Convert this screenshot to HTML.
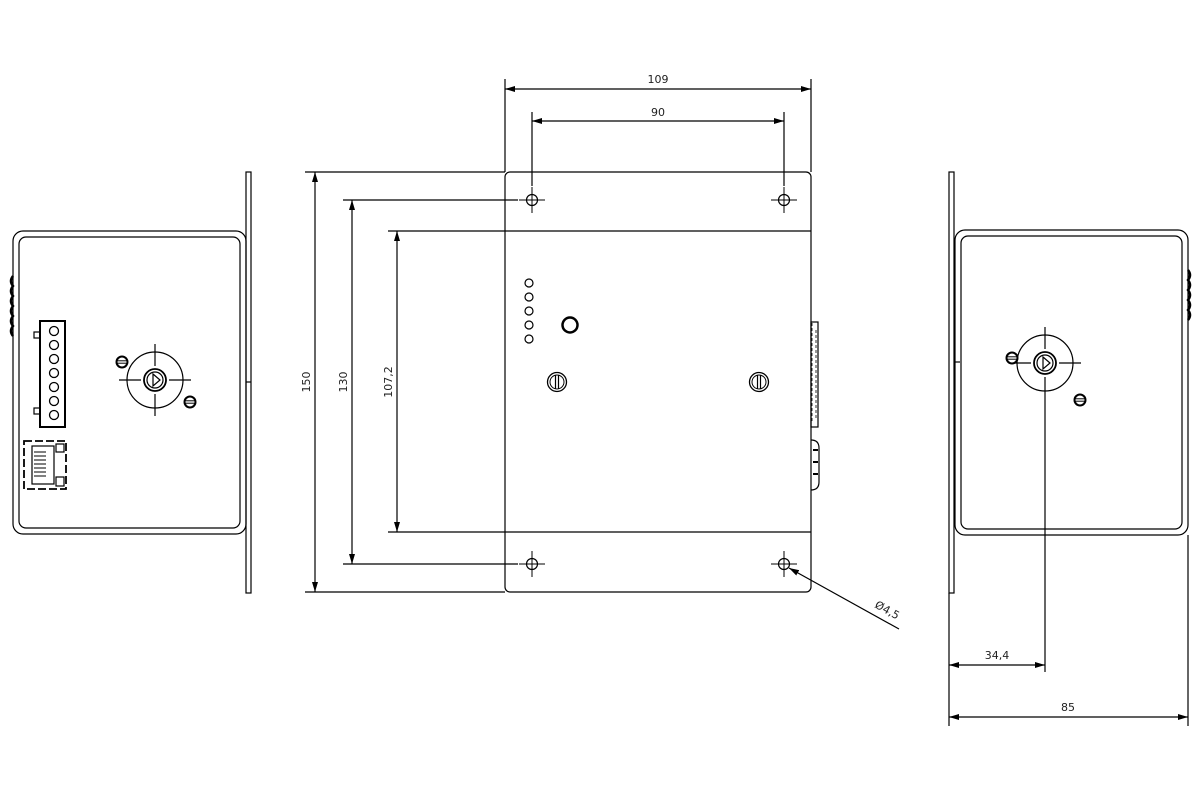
<!DOCTYPE html>
<html><head><meta charset="utf-8"><style>
html,body{margin:0;padding:0;background:#fff;}
svg{display:block}
text{font-family:"DejaVu Sans","Liberation Sans",sans-serif;font-size:11px;fill:#222}
</style></head><body>
<svg width="1200" height="800" viewBox="0 0 1200 800" xmlns="http://www.w3.org/2000/svg">
<defs>
<marker id="a" viewBox="0 0 10 6" refX="10" refY="3" markerWidth="10" markerHeight="6" orient="auto-start-reverse" markerUnits="userSpaceOnUse"><path d="M0,0 L10,3 L0,6z" fill="#000"/></marker>
<g id="screw"><circle r="5.5" fill="#fff" stroke="#000" stroke-width="2"/><line x1="-5" y1="-1.2" x2="5" y2="-1.2" stroke="#000" stroke-width="1"/><line x1="-5" y1="1.2" x2="5" y2="1.2" stroke="#000" stroke-width="1"/></g>
<g id="vscrew"><circle r="9.5" fill="#fff" stroke="#000" stroke-width="1.3"/><circle r="7" fill="none" stroke="#000" stroke-width="1"/><line x1="-1.5" y1="-7" x2="-1.5" y2="7" stroke="#000"/><line x1="1.5" y1="-7" x2="1.5" y2="7" stroke="#000"/></g>
<g id="hole"><circle r="5.5" fill="none" stroke="#000" stroke-width="1.2"/><line x1="-13" y1="0" x2="13" y2="0" stroke="#000" stroke-width="1"/><line x1="0" y1="-13" x2="0" y2="13" stroke="#000" stroke-width="1"/></g>
<g id="knob"><circle r="28" fill="none" stroke="#000" stroke-width="1.2"/><circle r="11" fill="none" stroke="#000" stroke-width="1.8"/><circle r="8" fill="none" stroke="#000" stroke-width="1.2"/><path d="M-2,-6 L5,0 L-2,6z M-2,-6 V6" fill="none" stroke="#000"/>
<line x1="-36" y1="0" x2="-14" y2="0" stroke="#000"/><line x1="14" y1="0" x2="36" y2="0" stroke="#000"/><line x1="0" y1="-36" x2="0" y2="-14" stroke="#000"/><line x1="0" y1="14" x2="0" y2="36" stroke="#000"/></g>
</defs>
<g fill="none" stroke="#000" stroke-width="1.2">
<!-- LEFT VIEW -->
<rect x="246" y="172" width="5" height="421"/>
<rect x="13" y="231" width="233" height="303" rx="10"/>
<rect x="19" y="237" width="221" height="291" rx="7"/>
<line x1="246" y1="382" x2="251" y2="382"/>
<path d="M13,276 q-4,5 0,10 q-4,5 0,10 q-4,5 0,10 q-4,5 0,10 q-4,5 0,10 q-4,5 0,10" stroke-width="2.5"/>
<rect x="40" y="321" width="25" height="106" stroke-width="2"/>
<rect x="34" y="332" width="6" height="6"/><rect x="34" y="408" width="6" height="6"/>
<g stroke-width="1.3"><circle cx="54" cy="331" r="4.5"/><circle cx="54" cy="345" r="4.5"/><circle cx="54" cy="359" r="4.5"/><circle cx="54" cy="373" r="4.5"/><circle cx="54" cy="387" r="4.5"/><circle cx="54" cy="401" r="4.5"/><circle cx="54" cy="415" r="4.5"/></g>
<rect x="24" y="441" width="42" height="48" stroke-dasharray="8,3" stroke-width="1.8"/>
<rect x="32" y="446" width="22" height="38"/>
<g stroke-width="1"><line x1="34" y1="452" x2="46" y2="452"/><line x1="34" y1="456" x2="46" y2="456"/><line x1="34" y1="460" x2="46" y2="460"/><line x1="34" y1="464" x2="46" y2="464"/><line x1="34" y1="468" x2="46" y2="468"/><line x1="34" y1="472" x2="46" y2="472"/><line x1="34" y1="476" x2="46" y2="476"/></g>
<rect x="56" y="444" width="8" height="8"/><rect x="56" y="477" width="8" height="9"/>
<use href="#knob" x="155" y="380"/>
<use href="#screw" x="122" y="362"/><use href="#screw" x="190" y="402"/>

<!-- CENTER VIEW -->
<rect x="505" y="172" width="306" height="420" rx="5"/>
<line x1="505" y1="231" x2="811" y2="231"/><line x1="505" y1="532" x2="811" y2="532"/>
<use href="#hole" x="532" y="200"/><use href="#hole" x="784" y="200"/>
<use href="#hole" x="532" y="564"/><use href="#hole" x="784" y="564"/>
<circle cx="529" cy="283" r="4"/><circle cx="529" cy="297" r="4"/><circle cx="529" cy="311" r="4"/><circle cx="529" cy="325" r="4"/><circle cx="529" cy="339" r="4"/>
<circle cx="570" cy="325" r="7.5" stroke-width="2.5"/>
<use href="#vscrew" x="557" y="382"/><use href="#vscrew" x="759" y="382"/>
<rect x="811" y="322" width="7" height="105"/>
<path d="M812,323 v100 M816,330 v90" stroke-dasharray="3,2" stroke-width="0.8"/>
<path d="M811,440 q8,0 8,8 v34 q0,8 -8,8"/>
<path d="M813,450 h5 M813,462 h5 M813,474 h5" stroke-width="2"/>

<!-- dims center -->
<line x1="505" y1="79" x2="505" y2="172"/><line x1="811" y1="79" x2="811" y2="172"/>
<line x1="505" y1="89" x2="811" y2="89" marker-start="url(#a)" marker-end="url(#a)"/>
<line x1="532" y1="112" x2="532" y2="186"/><line x1="784" y1="112" x2="784" y2="186"/>
<line x1="532" y1="121" x2="784" y2="121" marker-start="url(#a)" marker-end="url(#a)"/>
<line x1="305" y1="172" x2="505" y2="172"/><line x1="305" y1="592" x2="505" y2="592"/>
<line x1="315" y1="172" x2="315" y2="592" marker-start="url(#a)" marker-end="url(#a)"/>
<line x1="343" y1="200" x2="518" y2="200"/><line x1="343" y1="564" x2="518" y2="564"/>
<line x1="352" y1="200" x2="352" y2="564" marker-start="url(#a)" marker-end="url(#a)"/>
<line x1="388" y1="231" x2="505" y2="231"/><line x1="388" y1="532" x2="505" y2="532"/>
<line x1="397" y1="231" x2="397" y2="532" marker-start="url(#a)" marker-end="url(#a)"/>
<line x1="899" y1="629" x2="789" y2="568" marker-end="url(#a)"/>

<!-- RIGHT VIEW -->
<rect x="949" y="172" width="5" height="421"/>
<rect x="955" y="230" width="233" height="305" rx="10"/>
<rect x="961" y="236" width="221" height="293" rx="7"/>
<line x1="954" y1="362" x2="960" y2="362"/>
<path d="M1188,270 q4,5 0,10 q4,5 0,10 q4,5 0,10 q4,5 0,10 q4,5 0,10" stroke-width="2.5"/>
<use href="#knob" x="1045" y="363"/>
<use href="#screw" x="1012" y="358"/><use href="#screw" x="1080" y="400"/>
<line x1="1045" y1="399" x2="1045" y2="672"/>
<line x1="949" y1="593" x2="949" y2="726"/><line x1="1188" y1="535" x2="1188" y2="726"/>
<line x1="949" y1="665" x2="1045" y2="665" marker-start="url(#a)" marker-end="url(#a)"/>
<line x1="949" y1="717" x2="1188" y2="717" marker-start="url(#a)" marker-end="url(#a)"/>
</g>
<text x="658" y="83" text-anchor="middle">109</text>
<text x="658" y="116" text-anchor="middle">90</text>
<text transform="translate(310,382) rotate(-90)" text-anchor="middle">150</text>
<text transform="translate(347,382) rotate(-90)" text-anchor="middle">130</text>
<text transform="translate(392,382) rotate(-90)" text-anchor="middle">107,2</text>
<text transform="translate(874,607) rotate(29)">Ø4,5</text>
<text x="997" y="659" text-anchor="middle">34,4</text>
<text x="1068" y="711" text-anchor="middle">85</text>
</svg>
</body></html>
